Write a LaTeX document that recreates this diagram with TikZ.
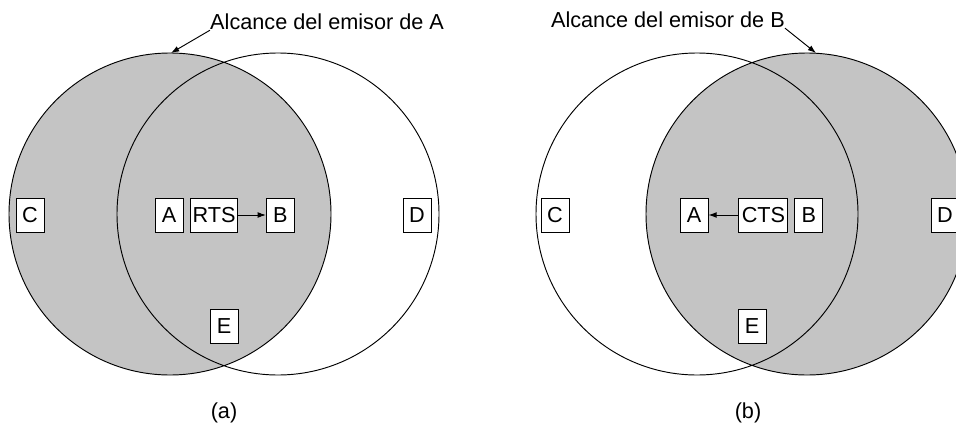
\documentclass[tikz,border=0pt]{standalone}
\usepackage{fontspec}
\setmainfont{Liberation Sans}
\usetikzlibrary{arrows.meta,positioning}

\begin{document}
\begin{tikzpicture}[x=0.03cm,y=-0.03cm,>={Latex[length=7pt,width=5pt]},
  every node/.style={font=\fontsize{18.5}{21}\selectfont},
  station/.style={draw,fill=white,line width=0.8pt,inner xsep=1.5pt,inner ysep=0pt,minimum width=0.84cm,minimum height=1.02cm},
  reachfill/.style={fill=black!23},
  rim/.style={line width=0.8pt}]
  \useasboundingbox (0,0) rectangle (956,424);

  % (a) RTS from A
  \fill[reachfill] (170,214) circle[radius=161];
  \draw[rim] (170,214) circle[radius=161] (278,214) circle[radius=161];
  \node[station] (ca) at (30,215) {C};
  \node[station] (aa) at (169,215) {A};
  \node[station,right=0.21cm of aa,minimum width=1.35cm] (rts) {RTS};
  \node[station,right=0.84cm of rts] (ba) {B};
  \node[station] (da) at (417,215) {D};
  \node[station] (ea) at (224,326) {E};
  \draw[->,line width=0.8pt] (rts) -- (ba);
  \node[inner sep=0pt,anchor=west] (laba) at (210,22) {Alcance del emisor de A};
  \coordinate (topa) at (171,53);
  \draw[->,line width=0.8pt] (laba.south west) -- (topa);
  \node (capa) at (224,413) {(a)};

  % (b) CTS from B
  \fill[reachfill] (807,214) circle[radius=161];
  \draw[rim] (697,214) circle[radius=161] (807,214) circle[radius=161];
  \node[station] (cb) at (555,215) {C};
  \node[station] (ab) at (694,215) {A};
  \node[station,right=0.9cm of ab,minimum width=1.47cm] (cts) {CTS};
  \node[station,right=0.18cm of cts] (bb) {B};
  \node[station] (db) at (945,215) {D};
  \node[station] (eb) at (752,326) {E};
  \draw[->,line width=0.8pt] (cts) -- (ab);
  \node[inner sep=0pt,anchor=east] (labb) at (785,20) {Alcance del emisor de B};
  \coordinate (topb) at (816,53);
  \draw[->,line width=0.8pt] (labb.south east) -- (topb);
  \node (capb) at (748,413) {(b)};
\end{tikzpicture}
\end{document}
